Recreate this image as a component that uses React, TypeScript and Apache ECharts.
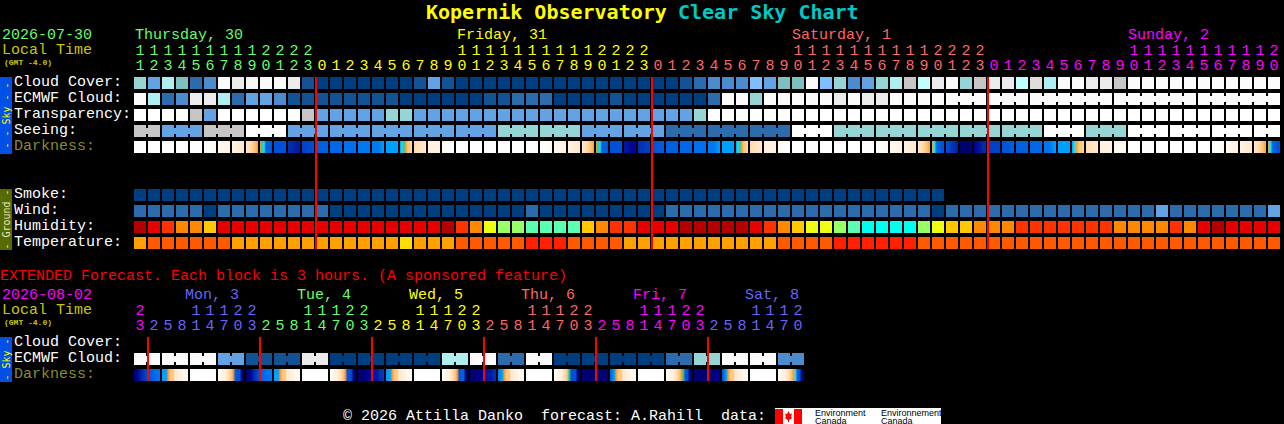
import React, { useEffect, useRef } from "react";
import * as echarts from "echarts";

// ---------- tick labels ----------
const hours = [
  11, 12, 13, 14, 15, 16, 17, 18, 19, 20, 21, 22, 23,
  0, 1, 2, 3, 4, 5, 6, 7, 8, 9, 10, 11, 12, 13, 14, 15, 16, 17, 18, 19, 20, 21, 22, 23,
  0, 1, 2, 3, 4, 5, 6, 7, 8, 9, 10, 11, 12, 13, 14, 15, 16, 17, 18, 19, 20, 21, 22, 23,
  0, 1, 2, 3, 4, 5, 6, 7, 8, 9, 10, 11, 12, 13, 14, 15, 16, 17, 18, 19, 20,
];
const hourDayLengths = [13, 24, 24, 21];
const hourDayColors = ["#66ff66", "#ffff00", "#ff6666", "#ff00ff"];
const extHours = [
  23, 2, 5, 8, 11, 14, 17, 20, 23, 2, 5, 8, 11, 14, 17, 20, 23, 2, 5, 8, 11, 14, 17, 20,
  23, 2, 5, 8, 11, 14, 17, 20, 23, 2, 5, 8, 11, 14, 17, 20, 23, 2, 5, 8, 11, 14, 17, 20,
];
const extDayLengths = [1, 8, 8, 8, 8, 8, 7];
const extDayColors = ["#ff00ff", "#6666ff", "#66ff66", "#ffff00", "#ff6666", "#ff00ff", "#6666ff"];
const mainRows = ["Cloud Cover:", "ECMWF Cloud:", "Transparency:", "Seeing:", "Darkness:", " ", "  ", "Smoke:", "Wind:", "Humidity:", "Temperature:"];
const extRows = ["Cloud Cover:", "ECMWF Cloud:", "Darkness:"];
const midnightColumns = [13, 37, 61];
const extMidnightColumns = [1, 9, 17, 25, 33, 41];

const cloudCover = [
  7, 4, 8, 6, 2, 3, 14, 12, 13, 14, 14, 12, 1, 0, 0, 0, 0, 0, 0, 0, 1,
  4, 1, 0, 0, 0, 0, 0, 0, 0, 0, 0, 0, 0, 0, 0, 0, 0, 0, 1, 2, 3, 3, 3, 5, 4, 6, 6, 14, 5, 7, 3,
  4, 7, 8, 10, 9, 12, 14, 7, 10, 12, 12, 9, 11, 8, 14, 14, 12, 12, 10,
  14, 14, 14, 14, 14, 14, 14, 14, 14, 14, 14,
];
const ecmwfCloud = [
  14, 8, 2, 3, 12, 12, 8, 2, 4, 4, 3, 1, 1, 1, 1, 1, 1, 1, 1, 0, 0,
  0, 0, 0, 0, 1, 1, 2, 2, 2, 0, 0, 0, 0, 1, 0, 0, 0, 0, 0, 0, 2, 14, 14, 7, 14, 14, 14, 14, 14, 12, 14,
  12, 12, 14, 14, 14, 14, 14, 14, 14, 14, 14, 14, 14, 14, 14, 14, 14, 14, 14,
  14, 14, 14, 14, 14, 14, 14, 14, 14, 14, 14,
];
const ecmwfJoinedColumns = [58, 59, 61, 62, 64, 65, 66, 67, 68, 70, 71, 72, 73, 74, 76, 77, 78, 79, 80];
const transparency = [
  15, 15, 15, 15, 10, 4, 15, 15, 15, 15, 15, 15, 10, 4, 4, 4, 4, 4, 7, 7,
  4, 4, 4, 4, 4, 4, 4, 4, 4, 4, 4, 4, 4, 4, 4, 4, 4, 4, 4, 4, 7,
  15, 15, 15, 15, 15, 15, 15, 15, 15, 15, 15, 15, 15, 15, 15, 15, 15, 15, 15, 15,
  15, 15, 15, 15, 15, 15, 15, 15, 15, 15, 15, 15, 15, 15, 15, 15, 15, 15, 15, 15, 15,
];
const seeingBlocks = [10, 4, 10, 15, 4, 4, 4, 4, 4, 7, 7, 4, 4, 2, 2, 2, 15, 7, 7, 7, 7, 7, 15, 7, 15, 15, 15, 15];
const seeingBlockLengths = [2, 3, 3, 3, 3, 3, 3, 3, 3, 3, 3, 3, 3, 3, 3, 3, 3, 3, 3, 3, 3, 3, 3, 3, 3, 3, 3, 2];
const smoke = [
  0, 0, 0, 0, 0, 0, 0, 0, 0, 0, 0, 0, 0, 0, 0, 0, 0, 0, 0, 0, 0, 0, 0, 0, 0, 0, 0, 0, 0,
  0, 0, 0, 0, 0, 0, 0, 0, 0, 0, 0, 0, 0, 0, 0, 0, 0, 0, 0, 0, 0, 0, 0, 0, 0, 0, 0, 0, 0,
];
const wind = [
  2, 2, 2, 2, 2, 0, 2, 2, 2, 2, 2, 2, 2, 2, 0, 0, 0, 0, 0, 0, 0,
  0, 0, 0, 0, 0, 0, 0, 2, 0, 0, 0, 0, 0, 0, 0, 0, 0, 2, 2, 2, 2, 2, 2, 2, 2, 2, 2, 2, 2, 2, 2,
  2, 2, 2, 2, 2, 0, 2, 2, 2, 2, 2, 2, 2, 2, 2, 2, 2, 2, 2, 2, 2, 4, 2, 2, 2, 2, 2, 2, 2, 4,
];
const humidity = [
  100, 95, 90, 85, 85, 80, 95, 95, 95, 95, 95, 95, 95, 95, 95, 95, 95, 95, 95, 95, 95, 95,
  100, 90, 85, 75, 70, 70, 65, 65, 65, 65, 80, 85, 90, 90, 95, 95, 95,
  100, 100, 100, 100, 100, 95, 90, 85, 80, 75, 75, 70, 65, 60, 60, 60, 60, 70, 75, 80, 80,
  85, 85, 85, 90, 90, 90, 90, 90, 90, 90, 85, 85, 85, 85, 90, 85, 95, 100, 95, 95, 95, 95,
];
const temperature = [
  20, 25, 25, 25, 25, 25, 25, 20, 20, 20, 20, 20, 20, 20, 20, 20, 20, 20, 20, 15, 20, 20, 20,
  25, 25, 25, 25, 25, 30, 30, 30, 25, 25, 25, 25, 20, 20, 20, 20, 20, 20, 20, 20, 20, 20, 20,
  25, 25, 25, 25, 30, 30, 30, 30, 30, 30,
  25, 25, 25, 25, 25, 25, 25, 25, 25, 25, 25, 25, 25, 25, 25, 25, 25, 25, 25, 25, 25, 25, 25, 25, 25, 25,
];
const darkness = [
  [0], [0], [0], [0], [0], [0, 1], [1, 2], [2, 3], [3, 4, 5, 6], [6, 7, 8, 14, 14, 14, 15], [15], [17, 18], [16, 15], [14], [13], [12], [11], [11, 11, 9], [9],
  [9, 8, 7, 6, 5, 5, 4], [4, 3], [2, 2], [1, 0], [0], [0], [0], [0], [0], [0],
  [0, 1], [1, 2], [2, 3], [3, 4, 5, 6], [6, 7, 8, 14, 14, 14, 15], [15], [18, 19], [17, 16], [15, 14], [14], [13], [12], [11, 11, 9], [9],
  [9, 8, 7, 6, 5, 5, 4], [4, 3], [2, 2], [1, 0], [0], [0], [0], [0], [0], [0],
  [0, 1], [1, 2], [2, 3], [3, 4, 5, 6], [6, 8, 14, 14, 15, 15], [15, 16, 17, 18], [20, 20], [19, 17], [16, 16], [15, 14], [14], [13], [12, 11, 9], [9],
  [9, 8, 6, 5, 5, 4], [4, 3], [2, 2], [1, 1], [0], [0], [0], [0], [0], [0],
  [0, 1], [1, 2], [2, 3], [3, 4, 5, 6], [6, 8, 14, 14, 15, 15],
];
const extEcmwf = [14, 14, 14, 4, 1, 1, 12, 0, 0, 0, 0, 8, 14, 2, 14, 0, 0, 0, 0, 2, 7, 14, 14, 3];
const extDarkness = [
  [20, 19, 18, 17, 16, 15, 14, 13, 12, 11],
  [9, 9, 9, 6, 5, 5, 3, 3, 2, 2, 1, 1, 1],
  [0],
  [1, 1, 2, 2, 3, 4, 5, 6, 14, 15, 15, 20, 20],
  [20, 20, 19, 18, 17, 16, 15, 14, 13, 12, 12, 11, 11],
  [9, 9, 9, 6, 5, 5, 3, 3, 2, 2, 1, 1, 1],
  [0],
  [1, 1, 2, 2, 3, 4, 5, 6, 15, 15, 16, 20, 20],
  [20, 20, 20, 20, 19, 19, 19, 18, 18, 18, 17, 17, 16],
  [10, 9, 9, 6, 5, 5, 3, 3, 2, 2, 1, 1, 1],
  [0],
  [1, 1, 2, 2, 3, 4, 5, 6, 15, 14, 14, 20, 20],
  [20, 20, 20, 20, 19, 19, 19, 19, 18, 18, 18, 17, 17],
  [11, 10, 9, 6, 5, 5, 3, 3, 2, 2, 1, 1, 1],
  [0],
  [1, 1, 2, 2, 3, 4, 5, 7, 15, 15, 15, 20, 20],
  [20],
  [14, 11, 9, 6, 5, 5, 3, 3, 2, 2, 1, 1, 1],
  [0],
  [1, 1, 2, 2, 3, 4, 5, 6, 7, 15, 15, 20, 20],
  [20, 20, 20, 20, 20, 20, 20, 20, 20, 20, 19, 19, 19],
  [15, 11, 9, 6, 5, 5, 3, 3, 2, 2, 1, 1, 1],
  [0],
  [1, 1, 2, 2, 3, 4, 5, 6, 8, 14, 15, 20, 20],
];

// ---------- colour scales ----------
const skyColors = [
  "#003f7f", "#135393", "#2c6cac", "#4c8ccc", "#63a3e3", "#7fbfff", "#7fbfbf", "#95d5d5",
  "#aeeeee", "#c0ffff", "#c6c6c6", "#dcdcdc", "#ebebeb", "#f5f5f5", "#fbfbfb", "#ffffff",
];
const humidityColors: Record<number, string> = {
  100: "#b40000", 95: "#e60000", 90: "#ff3300", 85: "#ff8800", 80: "#ffc800",
  75: "#eeff10", 70: "#99ff66", 65: "#5cffaf", 60: "#00ffee",
};
const temperatureColors: Record<number, string> = { 30: "#ff2000", 25: "#ff5a00", 20: "#ffa000", 15: "#ffdc00" };
const darknessColors = [
  "#ffffff", "#fffaf2", "#fff2e2", "#ffe8cc", "#ffdcb0", "#ffc880", "#ffa030", "#30c0a0", "#20e0f0", "#00a0ff",
  "#0090f8", "#0078f0", "#0070f0", "#0068e8", "#0060e0", "#0050d8", "#0040c8", "#0030b0", "#0018a0", "#000090", "#000070",
];

const FONT = "'Liberation Mono', monospace";
const TITLE_FONT = "'DejaVu Sans Mono', monospace";
const LEFT = 133;
const BAND = 14;
const ROW = 16;
const CELL = 12;
const GAP = 2;
const JOIN = 6;
const MAIN_TOP = 74;
const EXT_TOP = 334;
const CELL_SHIFT = 1;

type Cell = { col: number; fill: any; width?: number; join?: boolean };

const expand = (lengths: number[]) => lengths.flatMap((n, i) => Array.from({ length: n }, () => i));

function gradient(samples: number[]) {
  if (samples.length === 1) return darknessColors[samples[0]];
  return {
    type: "linear", x: 0, y: 0, x2: 1, y2: 0,
    colorStops: samples.map((s, i) => ({ offset: i / (samples.length - 1), color: darknessColors[s] })),
  };
}

function cellSeries(axis: number, row: number, cells: Cell[]) {
  return {
    type: "custom",
    coordinateSystem: "cartesian2d",
    xAxisIndex: axis === 0 ? 0 : 2,
    yAxisIndex: axis,
    silent: true,
    clip: false,
    z: 2,
    encode: { x: 0, y: 1 },
    data: cells.map((c) => [c.col, row]),
    renderItem: (params: any, api: any) => {
      const c = cells[params.dataIndex];
      const p = api.coord([c.col, row]);
      const x = p[0] - CELL / 2;
      const y = p[1] - CELL / 2 + CELL_SHIFT;
      const children: any[] = [
        { type: "rect", shape: { x, y, width: c.width ?? CELL, height: CELL }, style: { fill: c.fill } },
      ];
      if (c.join) {
        children.push({
          type: "rect",
          shape: { x: x + CELL, y: y + (CELL - JOIN) / 2, width: GAP, height: JOIN },
          style: { fill: c.fill },
        });
      }
      return { type: "group", children };
    },
  };
}

function lineSeries(axis: number, columns: number[], lastRow: number) {
  return {
    type: "custom",
    coordinateSystem: "cartesian2d",
    xAxisIndex: axis === 0 ? 0 : 2,
    yAxisIndex: axis,
    silent: true,
    clip: false,
    z: 5,
    encode: { x: 0 },
    data: columns.map((c) => [c, 0]),
    renderItem: (_: any, api: any) => {
      const top = api.coord([api.value(0), 0]);
      const bottom = api.coord([api.value(0), lastRow]);
      return {
        type: "rect",
        shape: {
          x: top[0] - BAND / 2,
          y: top[1] - CELL / 2 + CELL_SHIFT,
          width: 2,
          height: bottom[1] - top[1] + CELL,
        },
        style: { fill: "#ff0000" },
      };
    },
  };
}

function hourAxis(grid: number, labels: string[], colors: string[], offset: number) {
  return {
    type: "category",
    gridIndex: grid,
    position: "top",
    offset,
    data: labels.map((value, i) => ({ value, textStyle: { color: colors[i] } })),
    axisLine: { show: false },
    axisTick: { show: false },
    splitLine: { show: false },
    axisLabel: { interval: 0, margin: 0, fontFamily: FONT, fontSize: 15, hideOverlap: false, verticalAlign: "bottom" },
  };
}

function rowAxis(grid: number, rows: string[]) {
  return {
    type: "category",
    gridIndex: grid,
    inverse: true,
    data: rows.map((value) => ({
      value,
      textStyle: { color: value === "Darkness:" ? "#8a8a30" : "#ffffff", align: "left" },
    })),
    axisLine: { show: false },
    axisTick: { show: false },
    splitLine: { show: false },
    axisLabel: { interval: 0, margin: LEFT - 14, align: "left", fontFamily: FONT, fontSize: 15, hideOverlap: false },
  };
}

const txt = (text: string, x: number, y: number, fill: string, fontSize = 15, extra: any = {}) => ({
  type: "text",
  x,
  y,
  silent: true,
  z: 10,
  style: { text, fill, fontFamily: FONT, fontSize, verticalAlign: "middle", align: "left", ...extra },
});
const box = (x: number, y: number, width: number, height: number, fill: string) => ({
  type: "rect",
  silent: true,
  z: 9,
  shape: { x, y, width, height },
  style: { fill },
});
const sideBar = (y: number, height: number, fill: string, text: string, color: string) => [
  box(0, y, 12, height, fill),
  { ...txt(text, 6, y + height / 2, color, 10, { align: "center", fontFamily: TITLE_FONT }), rotation: Math.PI / 2 },
];

function buildOption() {
  const hourColors = expand(hourDayLengths).map((d) => hourDayColors[d]);
  const extColors = expand(extDayLengths).map((d) => extDayColors[d]);
  const tens = (h: number) => (h >= 10 ? String(Math.floor(h / 10)) : "");
  const units = (h: number) => String(h % 10);
  const sky = (v: number[]): Cell[] => v.map((l, col) => ({ col, fill: skyColors[l] }));

  const seeingDays = expand(seeingBlockLengths);
  const seeing: Cell[] = seeingDays.map((b, col) => ({
    col,
    fill: skyColors[seeingBlocks[b]],
    join: seeingDays[col + 1] === b,
  }));
  const ecmwf: Cell[] = ecmwfCloud.map((l, col) => ({
    col,
    fill: skyColors[l],
    join: ecmwfJoinedColumns.includes(col),
  }));
  const extCloud: Cell[] = extEcmwf.flatMap((l, g) => [
    { col: g * 2, fill: skyColors[l], join: true },
    { col: g * 2 + 1, fill: skyColors[l] },
  ]);

  const series = [
    cellSeries(0, 0, sky(cloudCover)),
    cellSeries(0, 1, ecmwf),
    cellSeries(0, 2, sky(transparency)),
    cellSeries(0, 3, seeing),
    cellSeries(0, 4, darkness.map((s, col) => ({ col, fill: gradient(s) }))),
    cellSeries(0, 7, sky(smoke)),
    cellSeries(0, 8, sky(wind)),
    cellSeries(0, 9, humidity.map((v, col) => ({ col, fill: humidityColors[v] }))),
    cellSeries(0, 10, temperature.map((v, col) => ({ col, fill: temperatureColors[v] }))),
    cellSeries(1, 1, extCloud),
    cellSeries(1, 2, extDarkness.map((s, g) => ({ col: g * 2, fill: gradient(s), width: BAND * 2 - GAP }))),
    lineSeries(0, midnightColumns, 10),
    lineSeries(1, extMidnightColumns, 2),
  ];

  const graphic = [
    txt("Kopernik Observatory", 426, 12, "#ffff00", 20, { fontWeight: "bold", fontFamily: TITLE_FONT }),
    txt("Clear Sky Chart", 678, 12, "#00c8c8", 20, { fontWeight: "bold", fontFamily: TITLE_FONT }),
    txt("2026-07-30", 2, 35, "#66ff66"),
    txt("Local Time", 2, 50, "#c8c800"),
    txt("(GMT -4.0)", 4, 62, "#c8c800", 8, { fontWeight: "bold" }),
    txt("Thursday, 30", 135, 35, "#66ff66"),
    txt("Friday, 31", 457, 35, "#ffff00"),
    txt("Saturday, 1", 792, 35, "#ff6666"),
    txt("Sunday, 2", 1128, 35, "#ff00ff"),
    txt("EXTENDED Forecast. Each block is 3 hours. (A sponsored feature)", 0, 276, "#ff0000"),
    txt("2026-08-02", 2, 295, "#ff00ff"),
    txt("Local Time", 2, 310, "#c8c800"),
    txt("(GMT -4.0)", 4, 322, "#c8c800", 8, { fontWeight: "bold" }),
    txt("Mon, 3", 185, 295, "#6666ff"),
    txt("Tue, 4", 297, 295, "#66ff66"),
    txt("Wed, 5", 409, 295, "#ffff00"),
    txt("Thu, 6", 521, 295, "#ff6666"),
    txt("Fri, 7", 633, 295, "#ff00ff"),
    txt("Sat, 8", 745, 295, "#6666ff"),
    ...sideBar(77, 77, "#0050e8", "- - Sky - -", "#ffff00"),
    ...sideBar(189, 61, "#556b00", "- Ground -", "#e8e8c0"),
    ...sideBar(337, 45, "#0050e8", "- Sky -", "#ffff00"),
    txt("© 2026 Attilla Danko", 343, 416, "#ffffff"),
    txt("forecast: A.Rahill", 541, 416, "#ffffff"),
    txt("data:", 721, 416, "#ffffff"),
    box(775, 408, 166, 16, "#ffffff"),
    box(775, 409, 8, 15, "#ff0000"),
    box(794, 409, 8, 15, "#ff0000"),
    {
      type: "polygon",
      silent: true,
      z: 10,
      shape: {
        points: [
          [788.5, 411], [790, 414], [792, 413.5], [791, 417], [792.5, 418], [789, 420], [789, 422], [788, 422],
          [788, 420], [784.5, 418], [786, 417], [785, 413.5], [787, 414],
        ],
      },
      style: { fill: "#ff0000" },
    },
    txt("Environment", 815, 412.5, "#000000", 9, { fontFamily: "'Liberation Sans', sans-serif" }),
    txt("Canada", 815, 420.5, "#000000", 9, { fontFamily: "'Liberation Sans', sans-serif" }),
    txt("Environnement", 881, 412.5, "#000000", 9, { fontFamily: "'Liberation Sans', sans-serif" }),
    txt("Canada", 881, 420.5, "#000000", 9, { fontFamily: "'Liberation Sans', sans-serif" }),
  ];

  return {
    animation: false,
    backgroundColor: "#000000",
    tooltip: { show: false },
    grid: [
      { left: LEFT, top: MAIN_TOP, width: BAND * hours.length, height: ROW * mainRows.length, containLabel: false, outerBoundsMode: "none" },
      { left: LEFT, top: EXT_TOP, width: BAND * extHours.length, height: ROW * extRows.length, containLabel: false, outerBoundsMode: "none" },
    ],
    xAxis: [
      hourAxis(0, hours.map(units), hourColors, 0),
      hourAxis(0, hours.map(tens), hourColors, 15),
      hourAxis(1, extHours.map(units), extColors, 0),
      hourAxis(1, extHours.map(tens), extColors, 15),
    ],
    yAxis: [rowAxis(0, mainRows), rowAxis(1, extRows)],
    series,
    graphic,
  };
}

export default function App() {
  const ref = useRef<HTMLDivElement>(null);
  useEffect(() => {
    document.body.style.margin = "0";
    document.body.style.background = "#000";
    const chart = echarts.init(ref.current!, undefined, { renderer: "svg" });
    chart.setOption(buildOption() as any);
    return () => chart.dispose();
  }, []);
  return <div ref={ref} style={{ width: 1284, height: 424 }} />;
}
